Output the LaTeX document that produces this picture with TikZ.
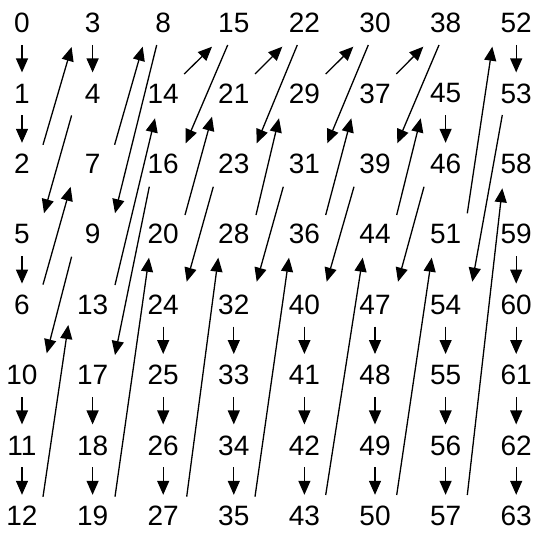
\documentclass[tikz,border=0pt]{standalone}
\usepackage{fontspec}
\setmainfont{Liberation Sans}
\usetikzlibrary{arrows.meta,calc}
\begin{document}
\begin{tikzpicture}[x=1pt,y=-1pt,
  num/.style={inner sep=0pt,font=\fontsize{28}{30}\selectfont},
  arr/.style={line width=1.3pt,-{Triangle[length=14pt,width=12pt]}}]
\useasboundingbox (0,0) rectangle (534,535);
% grid of numbers: value/col/row
\foreach \v/\c/\r in {0/0/0,1/0/1,2/0/2,5/0/3,6/0/4,10/0/5,11/0/6,12/0/7,
  3/1/0,4/1/1,7/1/2,9/1/3,13/1/4,17/1/5,18/1/6,19/1/7,
  8/2/0,14/2/1,16/2/2,20/2/3,24/2/4,25/2/5,26/2/6,27/2/7,
  15/3/0,21/3/1,23/3/2,28/3/3,32/3/4,33/3/5,34/3/6,35/3/7,
  22/4/0,29/4/1,31/4/2,36/4/3,40/4/4,41/4/5,42/4/6,43/4/7,
  30/5/0,37/5/1,39/5/2,44/5/3,47/5/4,48/5/5,49/5/6,50/5/7,
  38/6/0,45/6/1,46/6/2,51/6/3,54/6/4,55/6/5,56/6/6,57/6/7,
  52/7/0,53/7/1,58/7/2,59/7/3,60/7/4,61/7/5,62/7/6,63/7/7}
  \node[num] (n\v) at ({22+70.6*\c},{23+70.4*\r}) {\v};
% vertical arrows
\foreach \a/\b in {0/1,1/2,3/4,5/6,10/11,11/12,17/18,18/19,24/25,25/26,26/27,
  32/33,33/34,34/35,40/41,41/42,42/43,45/46,47/48,48/49,49/50,52/53,
  54/55,55/56,56/57,59/60,60/61,61/62,62/63}
  \draw[arr] ($(n\a)+(0,22)$) -- ($(n\b)+(0,-21)$);
% slanted arrows
\foreach \a/\b/\sx/\sy/\ex/\ey in {
  2/3/21/-19/-21/24, 4/5/-21/22/22/-21, 6/7/21/-20/-22/23,
  7/8/22/-19/-20.5/23.7, 8/9/-6.5/22/22.4/-21, 9/10/-21/22.5/24.7/-21.7,
  12/13/21/-19/-24.3/20.4, 13/14/22.4/-19.6/-8.2/24.9, 14/15/21/-19.4/-21.8/23.7,
  15/16/-6.1/22/22.5/-20.5, 16/17/-13.9/22.9/22.4/-20, 19/20/22.4/-19.1/-14.2/23.5,
  20/21/21.8/-19.2/-21.8/23.3, 21/22/21.2/-19.4/-22.1/23.7, 22/23/-7.1/22/22.9/-20.5,
  23/24/-20.5/22.9/23.5/-22.9, 27/28/23.5/-19.1/-15.5/23.5, 28/29/22.2/-19.2/-25.4/24.9,
  29/30/21.3/-19.4/-21.7/23.7, 30/31/-6.7/22/22.9/-20.5, 31/32/-21.1/22.9/22.9/-22.9,
  35/36/21.2/-19.1/-15.4/23.5, 36/37/21.3/-19.2/-23.7/24.9, 37/38/21.3/-19.4/-22.3/23.7,
  38/39/-6.6/22/22.3/-20.5, 39/40/-21/22.9/22.3/-22.9, 43/44/21.3/-20.8/-12.3/23.5,
  44/45/21.7/-19.2/-24.9/24.9, 46/47/-21.6/22.9/23/-22.9, 50/51/21.7/-20.8/-13.9/23.5,
  51/52/21.7/-20.9/-23.9/23.7, 53/54/-13.9/21.6/26.7/-22.9, 57/58/21.7/-20.8/-13.9/24.5}
  \draw[arr] ($(n\a)+(\sx,\sy)$) -- ($(n\b)+(\ex,\ey)$);
\end{tikzpicture}
\end{document}
